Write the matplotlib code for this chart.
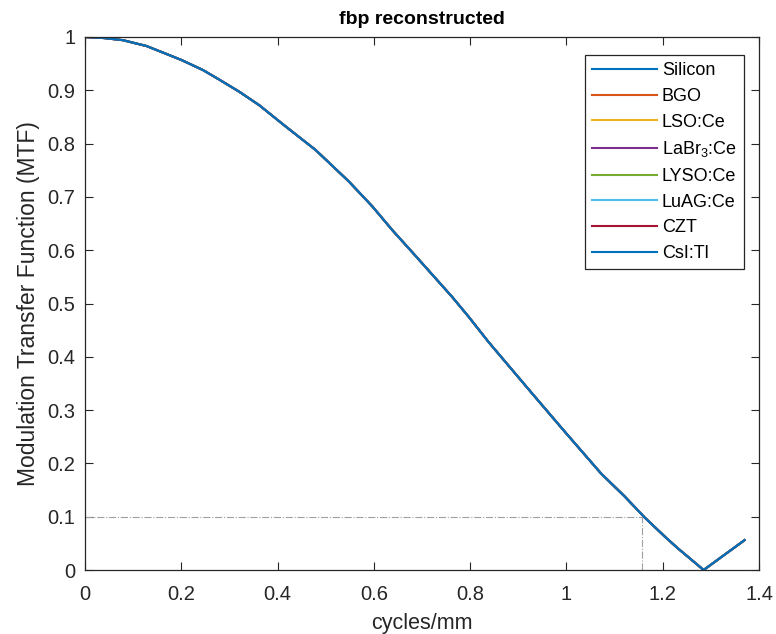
import numpy as np
import matplotlib
matplotlib.use("Agg")
import matplotlib.pyplot as plt
from matplotlib.ticker import FuncFormatter

plt.rcParams['font.family'] = ['Liberation Sans', 'DejaVu Sans']
plt.rcParams['mathtext.fontset'] = 'custom'
plt.rcParams['mathtext.rm'] = 'Liberation Sans'
plt.rcParams['mathtext.it'] = 'Liberation Sans'

# MTF curve
freq = [0.0, 0.04, 0.079, 0.128, 0.2, 0.245, 0.279, 0.321, 0.362, 0.417, 0.479,
        0.548, 0.597, 0.638, 0.679, 0.762, 0.797, 0.838, 0.928, 0.997,
        1.072, 1.121, 1.162, 1.204, 1.231, 1.285, 1.37]
mtf = [1.0, 0.998, 0.994, 0.983, 0.957, 0.938, 0.920, 0.897, 0.872, 0.832, 0.788,
       0.729, 0.682, 0.638, 0.597, 0.513, 0.475, 0.428, 0.332, 0.259,
       0.181, 0.138, 0.099, 0.063, 0.041, 0.0, 0.056]

materials = ['Silicon', 'BGO', 'LSO:Ce', 'LaBr$_3$:Ce', 'LYSO:Ce', 'LuAG:Ce', 'CZT', 'CsI:Tl']
colors = ['#0072BD', '#D95319', '#EDB120', '#7E2F8E', '#77AC30', '#4DBEEE', '#A2142F', '#0072BD']

cutoff_mtf = 0.1
cutoff_freq = 1.157

ink = '#262626'

fig = plt.figure(figsize=(7.76, 6.34), dpi=100)
ax = fig.add_axes([85 / 776, 1 - 570 / 634, 674 / 776, 533 / 634])

lines = []
for name, c in zip(materials, colors):
    ln, = ax.plot(freq, mtf, color=c, lw=1.5, label=name)
    lines.append(ln)

# 10% MTF guide lines
ax.plot([0, cutoff_freq], [cutoff_mtf, cutoff_mtf], color='#a0a0a0', lw=0.8, ls='-.')
ax.plot([cutoff_freq, cutoff_freq], [0, cutoff_mtf], color='#a0a0a0', lw=0.8, ls='-.')

ax.set_xlim(0, 1.4)
ax.set_ylim(0, 1)
ax.set_xticks(np.arange(0, 1.41, 0.2))
ax.set_yticks(np.arange(0, 1.01, 0.1))
fmt = FuncFormatter(lambda v, p: '%g' % round(v, 2))
ax.xaxis.set_major_formatter(fmt)
ax.yaxis.set_major_formatter(fmt)
ax.tick_params(direction='in', top=True, right=True, length=6, width=0.8,
               labelsize=14.5, colors=ink)
ax.tick_params(axis='x', pad=11)
ax.tick_params(axis='y', pad=7)
for s in ax.spines.values():
    s.set_color(ink)
    s.set_linewidth(0.9)

ax.set_xlabel('cycles/mm', fontsize=15.5, color=ink, labelpad=6)
ax.set_ylabel('Modulation Transfer Function (MTF)', fontsize=16.5, color=ink, labelpad=5)
ax.set_title('fbp reconstructed', fontsize=14, fontweight='bold', color='black', pad=9)

leg = ax.legend(handles=lines, loc='upper right',
                bbox_to_anchor=((744 - 85) / 674, (570 - 55) / 533),
                borderaxespad=0, fontsize=13, handlelength=3.6, handletextpad=0.25,
                labelspacing=0.48, fancybox=False, framealpha=1, edgecolor=ink,
                borderpad=0.4)
leg.get_frame().set_linewidth(0.9)

fig.savefig('out.png', dpi=100)
plt.close(fig)
